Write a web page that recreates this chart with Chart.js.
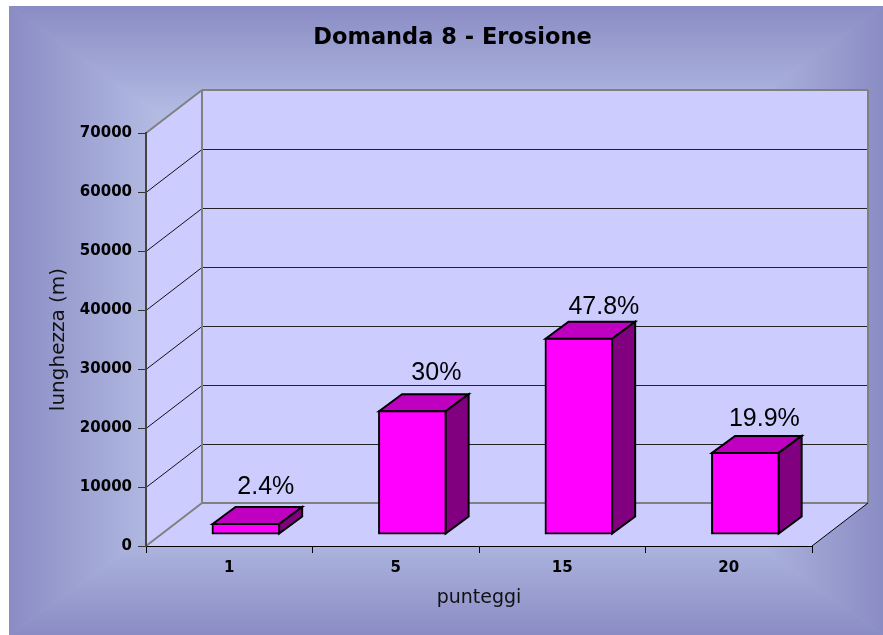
<!DOCTYPE html>
<html>
<head>
<meta charset="utf-8">
<title>Domanda 8 - Erosione</title>
<script src="https://cdn.jsdelivr.net/npm/chart.js@4"></script>
<style>
  body { margin: 0; background: #fff; overflow: hidden; }
  canvas { display: block; }
</style>
</head>
<body>
<canvas id="grafico" width="883" height="635"></canvas>
<script>
// dati
const punteggi = ["1", "5", "15", "20"];
const lunghezze = [1700, 20800, 33100, 13750];
const percentuali = ["2.4%", "30%", "47.8%", "19.9%"];
const titolo = "Domanda 8 - Erosione";

const FONT = "'DejaVu Sans'";

// profondita' finta del 3D
const muro = { dx: 56, dy: -43 };
const spostaBarra = { dx: 16.6, dy: -12 };
const lato = { dx: 23, dy: -17 };
// ritocchi a mano delle etichette, in pixel
const ritoccoX = [-1, 3, 4, -2];
const ritoccoY = [0, -1, 5, 3];

function poligono(ctx, punti, fill, stroke, spessore) {
  ctx.beginPath();
  punti.forEach((p, i) => i ? ctx.lineTo(p[0], p[1]) : ctx.moveTo(p[0], p[1]));
  ctx.closePath();
  if (fill) { ctx.fillStyle = fill; ctx.fill(); }
  if (stroke) { ctx.strokeStyle = stroke; ctx.lineWidth = spessore; ctx.stroke(); }
}

function linea(ctx, x1, y1, x2, y2, colore, spessore) {
  ctx.beginPath();
  ctx.moveTo(x1, y1);
  ctx.lineTo(x2, y2);
  ctx.strokeStyle = colore;
  ctx.lineWidth = spessore;
  ctx.stroke();
}

// sfondo a sfumatura rettangolare: quattro triangoli dal bordo al centro
function sfondo(ctx) {
  const x0 = 9, y0 = 6, x1 = 883, y1 = 635;
  const cx = (x0 + x1) / 2, cy = (y0 + y1) / 2;
  const lati = [
    [[x0, y0], [x1, y0], [cx, y0]],
    [[x1, y0], [x1, y1], [x1, cy]],
    [[x1, y1], [x0, y1], [cx, y1]],
    [[x0, y1], [x0, y0], [x0, cy]]
  ];
  lati.forEach(t => {
    const g = ctx.createLinearGradient(t[2][0], t[2][1], cx, cy);
    g.addColorStop(0, "#8a8cc4");
    g.addColorStop(0.34, "#b3bbe3");
    g.addColorStop(1, "#c4ccf0");
    poligono(ctx, [t[0], t[1], [cx, cy]], g, g, 1);
  });
  // la traccia dei triangoli non deve uscire dal riquadro
  ctx.fillStyle = "#fff";
  ctx.fillRect(0, 0, x0, 635);
  ctx.fillRect(0, 0, 883, y0);
}

const pluginTreD = {
  id: "treD",
  beforeDraw(chart) {
    const ctx = chart.ctx, a = chart.chartArea, y = chart.scales.y;
    ctx.save();
    sfondo(ctx);

    const l = a.left, r = a.right, t = a.top, b = a.bottom;
    const dx = muro.dx, dy = muro.dy;
    const pareti = "#ccccff";
    poligono(ctx, [[l + dx, t + dy], [r + dx, t + dy], [r + dx, b + dy], [l + dx, b + dy]], pareti);
    poligono(ctx, [[l, t], [l + dx, t + dy], [l + dx, b + dy], [l, b]], pareti);
    poligono(ctx, [[l, b], [l + dx, b + dy], [r + dx, b + dy], [r, b]], pareti);

    // griglia su parete di fondo e parete laterale
    y.ticks.forEach(tick => {
      if (tick.value === 0 || tick.value === y.max) return;
      const py = Math.round(y.getPixelForValue(tick.value)) + 0.5;
      linea(ctx, l, py, l + dx, py + dy, "#111", 1);
      linea(ctx, l + dx, py + dy, r + dx, py + dy, "#222", 1);
    });

    // spigoli grigi
    const grigio = "#808080";
    linea(ctx, l, t, l + dx, t + dy, grigio, 2);
    linea(ctx, l + dx, t + dy, r + dx, t + dy, grigio, 2);
    linea(ctx, l + dx, t + dy, l + dx, b + dy, grigio, 2);
    linea(ctx, r + dx, t + dy, r + dx, b + dy, grigio, 2);
    linea(ctx, l + dx, b + dy, r + dx, b + dy, grigio, 2);
    linea(ctx, l, b, l + dx, b + dy, grigio, 2);
    linea(ctx, r, b, r + dx, b + dy, "#000", 1);
    ctx.restore();
  },
  beforeDatasetDraw(chart) {
    const ctx = chart.ctx;
    ctx.save();
    ctx.translate(spostaBarra.dx, spostaBarra.dy);
    ctx.lineJoin = "miter";
    chart.getDatasetMeta(0).data.forEach(bar => {
      const sx = bar.x - bar.width / 2, dx = bar.x + bar.width / 2;
      const top = bar.y, base = bar.base;
      // faccia superiore e fianco
      poligono(ctx, [[sx, top], [sx + lato.dx, top + lato.dy], [dx + lato.dx, top + lato.dy], [dx, top]], "#c000c0", "#000", 2);
      poligono(ctx, [[dx, top], [dx + lato.dx, top + lato.dy], [dx + lato.dx, base + lato.dy], [dx, base]], "#800080", "#000", 2);
    });
  },
  afterDatasetDraw(chart) {
    const ctx = chart.ctx;
    ctx.restore();
    ctx.save();
    ctx.font = "25px 'Liberation Sans'";
    ctx.fillStyle = "#000";
    ctx.textAlign = "center";
    ctx.textBaseline = "alphabetic";
    chart.getDatasetMeta(0).data.forEach((bar, i) => {
      ctx.fillText(percentuali[i], bar.x + spostaBarra.dx + 21 + ritoccoX[i], bar.y + spostaBarra.dy + lato.dy - 13 + ritoccoY[i]);
    });
    ctx.restore();
  },
  afterDraw(chart) {
    const ctx = chart.ctx;
    ctx.save();
    ctx.font = "bold 22.5px " + FONT;
    ctx.fillStyle = "#000";
    ctx.textAlign = "center";
    ctx.textBaseline = "middle";
    ctx.fillText(titolo, 452.5, 38);
    ctx.restore();
  }
};

new Chart(document.getElementById("grafico"), {
  type: "bar",
  plugins: [pluginTreD],
  data: {
    labels: punteggi,
    datasets: [{
      data: lunghezze,
      backgroundColor: "#ff00ff",
      borderColor: "#000",
      borderWidth: 2,
      borderSkipped: false,
      inflateAmount: 1,
      barPercentage: 0.4,
      categoryPercentage: 1,
      clip: false
    }]
  },
  options: {
    responsive: false,
    animation: false,
    layout: { padding: { left: 0, right: 71, top: 133, bottom: 0 } },
    plugins: {
      legend: { display: false },
      tooltip: { enabled: false }
    },
    scales: {
      x: {
        afterFit(scale) { scale.height = 89; },
        grid: { drawOnChartArea: false, color: "#000", tickLength: 7, offset: true },
        border: { color: "#000", width: 1 },
        ticks: {
          color: "#000",
          padding: 6,
          maxRotation: 0,
          font: { family: FONT, size: 15, weight: "bold" }
        },
        title: {
          display: true,
          text: "punteggi",
          color: "#111",
          font: { family: FONT, size: 19 },
          padding: { top: 0, bottom: 26 }
        }
      },
      y: {
        min: 0,
        max: 70000,
        afterFit(scale) { scale.width = 146; },
        grid: { drawOnChartArea: false, color: "#333", tickLength: 8 },
        border: { color: "#444", width: 2 },
        ticks: {
          stepSize: 10000,
          color: "#000",
          padding: 6,
          callback: v => String(v),
          font: { family: FONT, size: 15, weight: "bold" }
        },
        title: {
          display: true,
          text: "lunghezza (m)",
          color: "#111",
          font: { family: FONT, size: 20 },
          padding: { top: 47, bottom: 0 }
        }
      }
    }
  }
});
</script>
</body>
</html>
